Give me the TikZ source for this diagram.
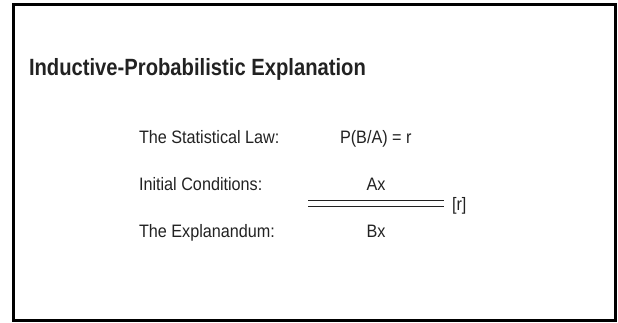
\documentclass[tikz,border=0pt]{standalone}
\usepackage{fontspec}
\setmainfont{Liberation Sans}
\newfontfamily\titlefont[FakeStretch=0.86]{Liberation Sans}
\newfontfamily\bodyfont[FakeStretch=0.90]{Liberation Sans}
\definecolor{ink}{HTML}{222222}
\tikzset{
  lbl/.style={inner sep=0pt, outer sep=0pt, text=ink, font=\bodyfont\fontsize{18}{20}\selectfont},
  ttl/.style={inner sep=0pt, outer sep=0pt, text=ink, font=\titlefont\bfseries\fontsize{23.5}{26}\selectfont},
  frame/.style={draw=black, line width=3pt},
  rule/.style={draw=ink, line width=1.6pt}
}
\begin{document}
\begin{tikzpicture}[x=1pt,y=-1pt]
\useasboundingbox (0,0) rectangle (618,323);
\draw[frame] (13.5,4.5) rectangle (615.5,320.5);
\node[ttl, anchor=base west] (title) at (29,76) {Inductive-Probabilistic Explanation};
\node[lbl, anchor=base west] (law) at (139,144) {The Statistical Law:};
\node[lbl, anchor=base west] (lawf) at (340,144) {P(B/A) = r};
\node[lbl, anchor=base west] (init) at (139,190) {Initial Conditions:};
\node[lbl, anchor=base] (ax) at (376,190) {Ax};
\node[lbl, anchor=base west] (expl) at (139,237) {The Explanandum:};
\node[lbl, anchor=base] (bx) at (376,237) {Bx};
\node[lbl, anchor=base west] (prob) at (452,210.5) {[r]};
\coordinate (l1a) at (308,200.5);
\coordinate (l1b) at (444,200.5);
\coordinate (l2a) at (308,206.5);
\coordinate (l2b) at (444,206.5);
\draw[rule] (l1a) -- (l1b);
\draw[rule] (l2a) -- (l2b);
\end{tikzpicture}
\end{document}
